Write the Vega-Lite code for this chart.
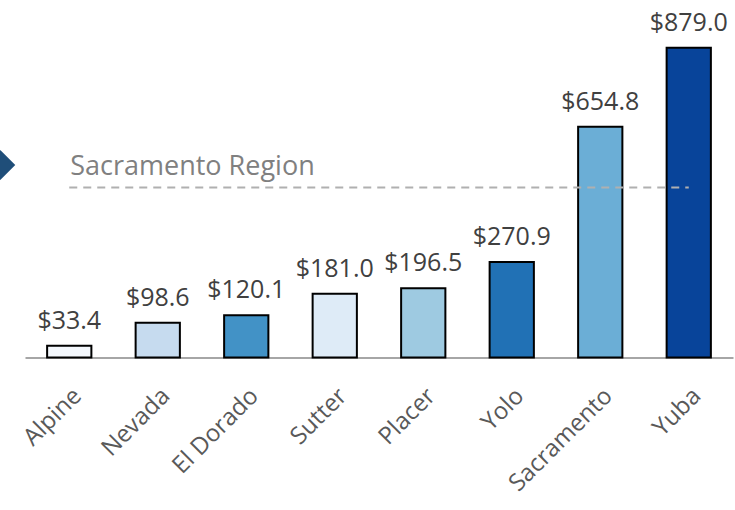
{
  "$schema": "https://vega.github.io/schema/vega-lite/v6.json",
  "autosize": "none",
  "width": 708,
  "height": 352.5,
  "padding": {"left": 25, "top": 5, "right": 2, "bottom": 152.5},
  "background": "white",
  "config": {"view": {"stroke": null}, "font": "Open Sans"},
  "data": {"values": [
    {"county": "Alpine", "value": 33.4, "label": "$33.4", "color": "#f4f8fd"},
    {"county": "Nevada", "value": 98.6, "label": "$98.6", "color": "#c6dbef"},
    {"county": "El Dorado", "value": 120.1, "label": "$120.1", "color": "#4292c6"},
    {"county": "Sutter", "value": 181.0, "label": "$181.0", "color": "#deebf7"},
    {"county": "Placer", "value": 196.5, "label": "$196.5", "color": "#9ecae1"},
    {"county": "Yolo", "value": 270.9, "label": "$270.9", "color": "#2171b5"},
    {"county": "Sacramento", "value": 654.8, "label": "$654.8", "color": "#6baed6"},
    {"county": "Yuba", "value": 879.0, "label": "$879.0", "color": "#08449a"}
  ]},
  "encoding": {
    "x": {"field": "county", "type": "nominal", "sort": null,
      "scale": {"paddingInner": 0.5, "paddingOuter": 0.25},
      "axis": {"title": null, "labelAngle": -45, "labelFontSize": 24, "labelColor": "#595959", "ticks": false, "domainColor": "#888888", "domainWidth": 1.5, "labelPadding": 26}},
    "y": {"type": "quantitative", "scale": {"domain": [0, 1000]}, "axis": null}
  },
  "layer": [
    {
      "mark": {"type": "bar", "stroke": "black", "strokeWidth": 2},
      "encoding": {
        "y": {"field": "value", "type": "quantitative"},
        "fill": {"field": "color", "type": "nominal", "scale": null}
      }
    },
    {
      "mark": {"type": "text", "baseline": "alphabetic", "dy": -17, "fontSize": 25, "color": "#404040"},
      "encoding": {
        "y": {"field": "value", "type": "quantitative"},
        "text": {"field": "label"}
      }
    },
    {
      "data": {"values": [{"ref": 482, "name": "Sacramento Region"}]},
      "layer": [
        {
          "mark": {"type": "rule", "stroke": "#b0b0b0", "strokeWidth": 2, "strokeDash": [8, 6]},
          "encoding": {
            "x": {"datum": "Alpine"},
            "x2": {"datum": "Yuba"},
            "y": {"field": "ref", "type": "quantitative"}
          }
        },
        {
          "mark": {"type": "text", "align": "left", "baseline": "alphabetic", "dx": 1, "dy": -13, "fontSize": 27, "color": "#808080"},
          "encoding": {
            "x": {"datum": "Alpine"},
            "y": {"field": "ref", "type": "quantitative"},
            "text": {"field": "name"}
          }
        }
      ]
    },
    {
      "data": {"values": [{"pos": 546}]},
      "mark": {"type": "point", "shape": "diamond", "filled": true, "size": 900, "color": "#1f4e79", "opacity": 1, "xOffset": -69},
      "encoding": {
        "x": {"datum": "Alpine"},
        "y": {"field": "pos", "type": "quantitative"}
      }
    }
  ]
}
